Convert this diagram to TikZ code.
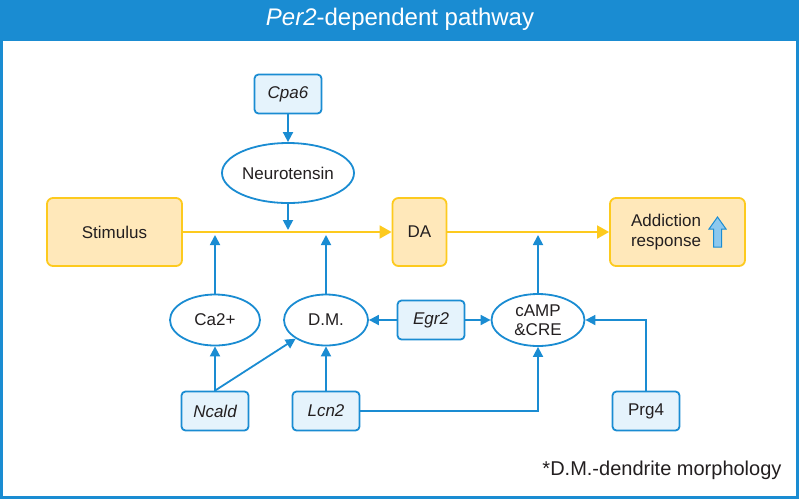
\documentclass[tikz,border=0pt]{standalone}
\usepackage{fontspec}
\setmainfont{Liberation Sans}
\usetikzlibrary{arrows.meta,shapes.geometric}
\definecolor{bl}{HTML}{1A8CD2}
\definecolor{blfill}{HTML}{E5F3FC}
\definecolor{yl}{HTML}{FDCA1E}
\definecolor{ylfill}{HTML}{FFE8BA}
\definecolor{txt}{HTML}{231F20}
\definecolor{icon}{HTML}{8CC8EE}
\tikzset{
  genebox/.style={draw=bl,fill=blfill,line width=1.8pt,rounded corners=4pt,minimum width=67pt,minimum height=39pt,inner sep=0pt,text=txt,font=\fontsize{17}{20}\selectfont\itshape},
  oval/.style={draw=bl,fill=white,line width=1.8pt,ellipse,inner sep=0pt,text=txt,font=\fontsize{17}{20}\selectfont},
  ybox/.style={draw=yl,fill=ylfill,line width=1.8pt,rounded corners=6pt,minimum height=68pt,inner sep=0pt,text=txt,font=\fontsize{17}{20}\selectfont},
  barrow/.style={draw=bl,line width=1.8pt,-{Triangle[length=10pt,width=10pt]}},
  yarrow/.style={draw=yl,line width=1.8pt,-{Triangle[length=12pt,width=13pt]}},
}
\begin{document}
\begin{tikzpicture}[x=1pt,y=-1pt]
\useasboundingbox (0,0) rectangle (799,499);
\fill[white] (0,0) rectangle (799,499);
\fill[bl] (0,0) rectangle (799,41);
\draw[bl,line width=3pt] (1.5,1.5) rectangle (797.5,497.5);
\node[white,font=\fontsize{24}{28}\selectfont] (title) at (400,19) {\textit{Per2}-dependent pathway};

% yellow boxes
\node[ybox,minimum width=135pt] (stim) at (114.5,232) {Stimulus};
\node[ybox,minimum width=54pt] (da) at (419.5,232) {DA};
\node[ybox,minimum width=135pt] (add) at (677.5,232) {};
\node[text=txt,font=\fontsize{17}{20}\selectfont,align=center] (addtxt) at (666,232) {Addiction\\response};

% icon
\draw[bl,fill=icon,line width=1pt,line join=miter]
  (717.5,217) -- (726,229) -- (721.5,229) -- (721.5,247) -- (713.5,247) -- (713.5,229) -- (709,229) -- cycle;

% gene boxes
\node[genebox] (cpa6) at (288,94) {Cpa6};
\node[genebox] (ncald) at (215,411) {Ncald};
\node[genebox] (lcn2) at (326,411) {Lcn2};
\node[genebox] (egr2) at (431,320) {Egr2};
\node[genebox,font=\fontsize{17}{20}\selectfont] (prg4) at (646,411) {Prg4};

% ovals
\node[oval,minimum width=132pt,minimum height=60pt] (neuro) at (288,173) {Neurotensin};
\node[oval,minimum width=90pt,minimum height=51pt] (ca) at (215,320) {Ca2+};
\node[oval,minimum width=84pt,minimum height=51pt] (dm) at (326,320) {D.M.};
\node[oval,minimum width=93pt,minimum height=52pt,align=center,font=\fontsize{17}{19}\selectfont] (camp) at (538,320) {cAMP\\\&CRE};

% coordinates on the yellow line
\coordinate (pN) at (288,232);
\coordinate (pC) at (215,232);
\coordinate (pD) at (326,232);
\coordinate (pA) at (538,232);

% yellow connectors
\draw[yarrow] (stim.east) -- (da.west);
\draw[yarrow] (da.east) -- (add.west);

% blue connectors
\draw[barrow] (cpa6.south) -- (neuro.north);
\draw[barrow,shorten >=2pt] (neuro.south) -- (pN);
\draw[barrow,shorten >=3pt] (ca.north) -- (pC);
\draw[barrow,shorten >=3pt] (dm.north) -- (pD);
\draw[barrow,shorten >=3pt] (camp.north) -- (pA);
\draw[barrow] (ncald.north) -- (ca.south);
\draw[barrow] (ncald.north) -- (dm.south west);
\draw[barrow] (lcn2.north) -- (dm.south);
\draw[barrow] (egr2.west) -- (dm.east);
\draw[barrow] (egr2.east) -- (camp.west);
\draw[barrow] (lcn2.east) -| (camp.south);
\draw[barrow] (prg4.north) |- (camp.east);

% footnote
\node[anchor=east,text=txt,font=\fontsize{20}{24}\selectfont] (note) at (785,470) {*D.M.-dendrite morphology};
\end{tikzpicture}
\end{document}
